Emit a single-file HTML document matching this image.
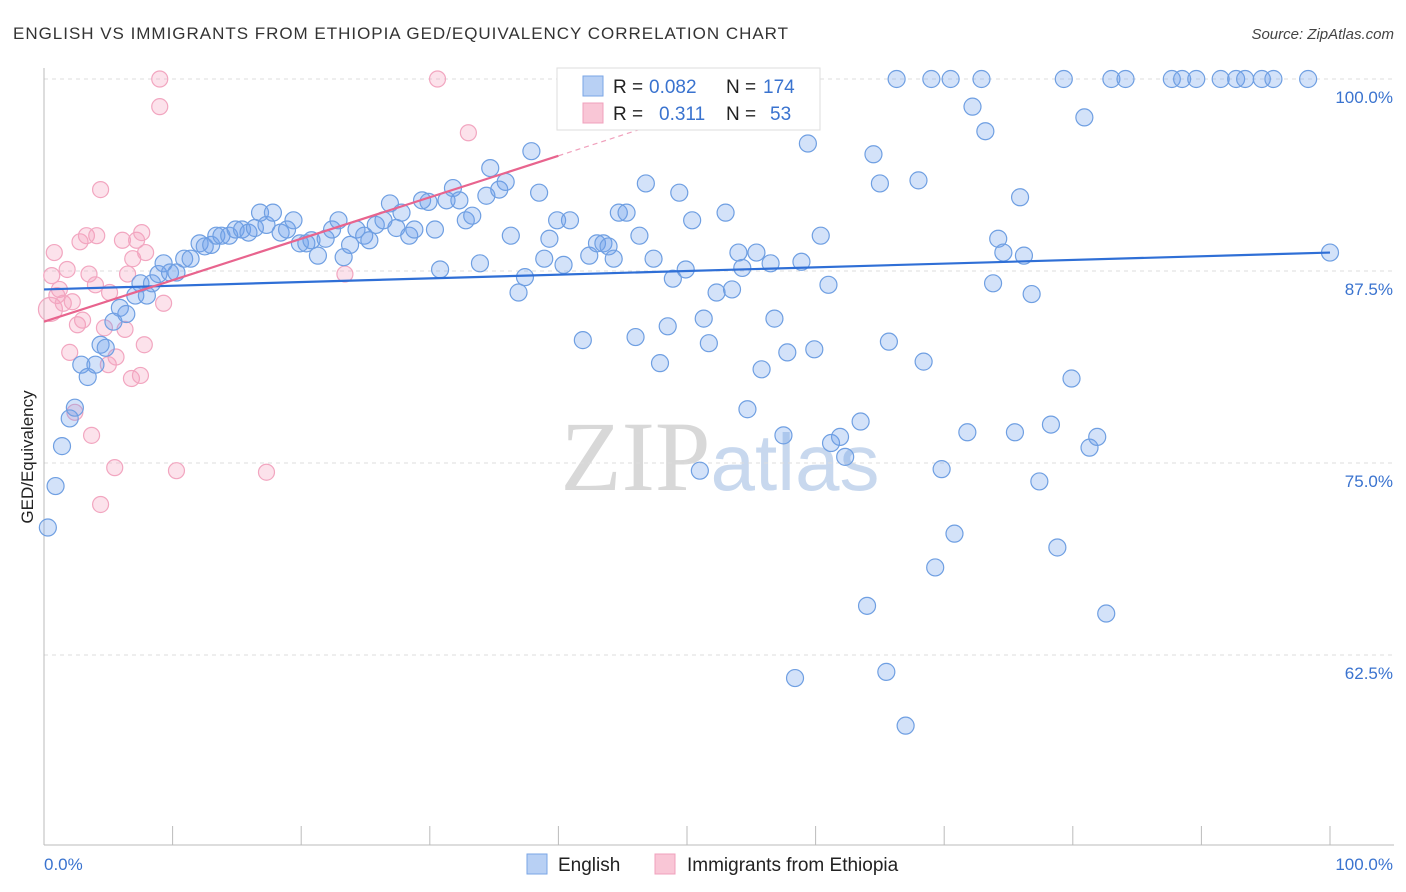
<!DOCTYPE html>
<html><head><meta charset="utf-8"><style>
body{margin:0;background:#fff;font-family:"Liberation Sans",sans-serif;}
svg{display:block}
</style></head><body>
<svg id="chart" width="1406" height="892" xmlns="http://www.w3.org/2000/svg">
<text x="13" y="39" font-size="17" fill="#333" textLength="775" lengthAdjust="spacing">ENGLISH VS IMMIGRANTS FROM ETHIOPIA GED/EQUIVALENCY CORRELATION CHART</text>
<text x="1394" y="39" font-size="15" fill="#444" font-style="italic" text-anchor="end">Source: ZipAtlas.com</text>
<text x="720" y="490" font-size="100" text-anchor="middle" font-family="Liberation Serif,serif"><tspan fill="#d8d8d8">ZIP</tspan><tspan fill="#c8d8ee" font-family="Liberation Sans,sans-serif" font-size="80">atlas</tspan></text>
<text transform="translate(33,457) rotate(-90)" font-size="17" fill="#222" text-anchor="middle">GED/Equivalency</text>
<g id="grid"></g><g id="axes"></g><g id="pinkpts"></g><g id="bluepts"></g><g id="lines"></g>
<g>
<rect x="557" y="68" width="263" height="62" fill="#fff" stroke="#ddd"/>
<rect x="583" y="76" width="20" height="20" fill="#b8d0f4" stroke="#7aa6e6"/>
<rect x="583" y="103" width="20" height="20" fill="#f9c6d6" stroke="#f0a0bc"/>
<text x="613" y="93" font-size="19" fill="#222">R =</text>
<text x="649" y="93" font-size="19" fill="#3a73cf">0.082</text>
<text x="726" y="93" font-size="19" fill="#222">N =</text>
<text x="763" y="93" font-size="19" fill="#3a73cf">174</text>
<text x="613" y="120" font-size="19" fill="#222">R =</text>
<text x="659" y="120" font-size="19" fill="#3a73cf">0.311</text>
<text x="726" y="120" font-size="19" fill="#222">N =</text>
<text x="770" y="120" font-size="19" fill="#3a73cf">53</text>
</g>
<rect x="527" y="854" width="20" height="20" fill="#b8d0f4" stroke="#7aa6e6"/>
<text x="558" y="871" font-size="19" fill="#222">English</text>
<rect x="655" y="854" width="20" height="20" fill="#f9c6d6" stroke="#f0a0bc"/>
<text x="687" y="871" font-size="19" fill="#222">Immigrants from Ethiopia</text>
</svg>
<script>
const yTicks=[100,87.5,75,62.5];
const yTickLabels=["100.0%","87.5%","75.0%","62.5%"];
const xTickVals=[0,10,20,30,40,50,60,70,80,90,100];
const blueX=[0.3,0.9,1.4,2.0,2.4,2.9,3.4,4.0,4.4,4.8,5.4,5.9,6.4,7.1,7.5,8.0,8.4,8.9,9.3,9.8,10.3,10.9,11.4,12.1,12.5,13.0,13.4,13.8,14.4,14.9,15.4,15.9,16.4,16.8,17.3,17.8,18.4,18.9,19.4,19.9,20.4,20.8,21.3,21.9,22.4,22.9,23.3,23.8,24.3,24.9,25.3,25.8,26.4,26.9,27.4,27.8,28.4,28.8,29.4,29.9,30.4,30.8,31.3,31.8,32.3,32.8,33.3,33.9,34.4,34.7,35.4,35.9,36.3,36.9,37.4,37.9,38.5,38.9,39.3,39.9,40.4,40.9,41.9,42.4,43.0,43.5,43.9,44.3,44.7,45.3,46.0,46.3,46.8,47.4,47.9,48.5,48.9,49.4,49.9,50.4,51.0,51.3,51.7,52.3,53.0,53.5,54.0,54.3,54.7,55.4,55.8,56.5,56.8,57.5,57.8,58.4,58.9,59.4,59.9,60.4,61.0,61.2,61.9,62.3,63.5,64.0,64.5,65.0,65.5,65.7,66.3,67.0,68.0,68.4,69.0,69.3,69.8,70.5,70.8,71.8,72.2,72.9,73.2,73.8,74.2,74.6,75.5,75.9,76.2,76.8,77.4,78.3,78.8,79.3,79.9,80.9,81.3,81.9,82.6,83.0,84.1,87.7,88.5,89.6,91.5,92.7,93.4,94.7,95.6,98.3,100];
const blueY=[70.8,73.5,76.1,77.9,78.6,81.4,80.6,81.4,82.7,82.5,84.2,85.1,84.7,85.9,86.7,85.9,86.7,87.3,88.0,87.4,87.4,88.3,88.3,89.3,89.1,89.2,89.8,89.8,89.8,90.2,90.2,90.0,90.3,91.3,90.5,91.3,90.0,90.2,90.8,89.3,89.3,89.5,88.5,89.6,90.2,90.8,88.4,89.2,90.2,89.8,89.5,90.5,90.8,91.9,90.3,91.3,89.8,90.2,92.1,92.0,90.2,87.6,92.1,92.9,92.1,90.8,91.1,88.0,92.4,94.2,92.8,93.3,89.8,86.1,87.1,95.3,92.6,88.3,89.6,90.8,87.9,90.8,83.0,88.5,89.3,89.3,89.1,88.3,91.3,91.3,83.2,89.8,93.2,88.3,81.5,83.9,87.0,92.6,87.6,90.8,74.5,84.4,82.8,86.1,91.3,86.3,88.7,87.7,78.5,88.7,81.1,88.0,84.4,76.8,82.2,61.0,88.1,95.8,82.4,89.8,86.6,76.3,76.7,75.4,77.7,65.7,95.1,93.2,61.4,82.9,100,57.9,93.4,81.6,100,68.2,74.6,100,70.4,77.0,98.2,100,96.6,86.7,89.6,88.7,77.0,92.3,88.5,86.0,73.8,77.5,69.5,100,80.5,97.5,76.0,76.7,65.2,100,100,100,100,100,100,100,100,100,100,100,88.7];
const pinkX=[0.5,0.6,0.8,1.0,1.2,1.5,1.8,2.0,2.2,2.4,2.6,2.8,3.0,3.3,3.5,3.7,4.0,4.1,4.4,4.4,4.7,5.0,5.1,5.5,5.6,6.1,6.3,6.5,6.8,6.9,7.2,7.5,7.6,7.8,7.9,9.0,9.0,9.3,10.3,17.3,23.4,30.6,33.0];
const pinkY=[85.0,87.2,88.7,85.9,86.3,85.4,87.6,82.2,85.5,78.3,84.0,89.4,84.3,89.8,87.3,76.8,86.6,89.8,92.8,72.3,83.8,81.4,86.1,74.7,81.9,89.5,83.7,87.3,80.5,88.3,89.5,80.7,90.0,82.7,88.7,100,98.2,85.4,74.5,74.4,87.3,100,96.5];
const blueLine=[[0,86.3],[100,88.7]];
const pinkLine=[[0,84.2],[40,95.0]];
const pinkDash=[[40,95.0],[47,96.9]];

const X0=44,X1=1330,Y100=79,PX=15.36;
const sx=v=>X0+v*(X1-X0)/100;
const sy=v=>Y100+(100-v)*PX;
const NS="http://www.w3.org/2000/svg";
function mk(tag,attrs,parent){const e=document.createElementNS(NS,tag);for(const k in attrs)e.setAttribute(k,attrs[k]);parent.appendChild(e);return e;}
const grid=document.getElementById('grid'),axes=document.getElementById('axes');
yTicks.forEach((t,i)=>{
  const l=mk('line',{x1:44,x2:1394,y1:sy(t),y2:sy(t),stroke:'#ddd','stroke-dasharray':'4,4'},grid);
  
  
  const tx=mk('text',{x:1393,y:sy(t)+24,'font-size':17,fill:'#3a73cf','text-anchor':'end'},axes);
  tx.textContent=yTickLabels[i];
  
  
});
const xa=mk('line',{x1:44,x2:1394,y1:845,y2:845,stroke:'#bbb'},axes);


const ya=mk('line',{x1:44,x2:44,y1:68,y2:845,stroke:'#bbb'},axes);


xTickVals.forEach(t=>{
  const l=mk('line',{x1:sx(t),x2:sx(t),y1:826,y2:845,stroke:'#bbb'},axes);
  
  
});
const xl0=mk('text',{x:44,y:870,'font-size':17,fill:'#3a73cf'},axes);xl0.textContent='0.0%';


const xl1=mk('text',{x:1393,y:870,'font-size':17,fill:'#3a73cf','text-anchor':'end'},axes);xl1.textContent='100.0%';


const pg=document.getElementById('pinkpts');
pinkX.forEach((x,i)=>{
  const c=mk('circle',{cx:sx(x),cy:sy(pinkY[i]),r:i==0?12:8,fill:'rgba(244,160,190,0.3)',stroke:'#f2a6c0','stroke-width':1.2},pg);
  
  
});
const bg=document.getElementById('bluepts');
blueX.forEach((x,i)=>{
  const c=mk('circle',{cx:sx(x),cy:sy(blueY[i]),r:8.5,fill:'rgba(110,160,235,0.3)',stroke:'#6f9fe2','stroke-width':1.2},bg);
  
  
});
const lg=document.getElementById('lines');
const bl=mk('line',{x1:sx(blueLine[0][0]),y1:sy(blueLine[0][1]),x2:sx(blueLine[1][0]),y2:sy(blueLine[1][1]),stroke:'#2f6fd6','stroke-width':2.2},lg);


const pl=mk('line',{x1:sx(pinkLine[0][0]),y1:sy(pinkLine[0][1]),x2:sx(pinkLine[1][0]),y2:sy(pinkLine[1][1]),stroke:'#e8648e','stroke-width':2.2},lg);


const pd=mk('line',{x1:sx(pinkDash[0][0]),y1:sy(pinkDash[0][1]),x2:sx(pinkDash[1][0]),y2:sy(pinkDash[1][1]),stroke:'#f0a0bc','stroke-width':1.2,'stroke-dasharray':'5,4'},lg);


</script>
</body></html>
